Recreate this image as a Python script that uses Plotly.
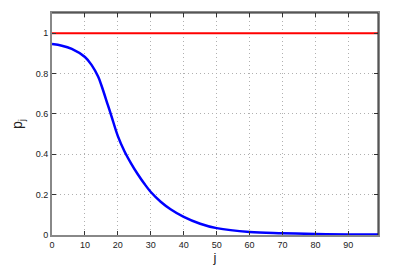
import plotly.graph_objects as go

# data
j_vals = [0, 3, 6, 10, 12, 14, 15, 17, 18, 20, 22, 24, 26, 28, 30, 33, 36, 40, 45, 50, 60, 70, 80, 90, 99]
p_vals = [0.946, 0.938, 0.922, 0.882, 0.843, 0.785, 0.742, 0.642, 0.592, 0.49, 0.415, 0.355,
          0.302, 0.255, 0.213, 0.165, 0.128, 0.09, 0.056, 0.034, 0.015, 0.009, 0.005, 0.003, 0.002]
ref_j = [0, 99]
ref_p = [1, 1]

x_ticks = [0, 10, 20, 30, 40, 50, 60, 70, 80, 90]
y_ticks = [0, 0.2, 0.4, 0.6, 0.8, 1]
y_tick_text = ["0", "0.2", "0.4", "0.6", "0.8", "1"]

fig = go.Figure()
fig.add_trace(go.Scatter(x=ref_j, y=ref_p, mode="lines",
                         line=dict(color="#ff0000", width=2), showlegend=False))
fig.add_trace(go.Scatter(x=j_vals, y=p_vals, mode="lines",
                         line=dict(color="#0000ff", width=2.5, shape="spline", smoothing=1.0),
                         showlegend=False))

font = dict(family="Liberation Sans, Arial, sans-serif", color="#222", size=9)
axis_common = dict(ticks="inside", ticklen=4, tickcolor="#333", showline=True,
                   linecolor="#888", linewidth=2, mirror="ticks", showgrid=True,
                   gridcolor="#b0b0b0", griddash="1px,3px", gridwidth=1, zeroline=False)
fig.update_layout(
    width=409, height=272,
    margin=dict(l=52, r=31, t=11, b=36),
    paper_bgcolor="white", plot_bgcolor="white",
    font=font,
    xaxis=dict(range=[0, 99], tickvals=x_ticks,
               title=dict(text="j", font=dict(size=13), standoff=2), **axis_common),
    yaxis=dict(range=[0, 1.1], tickvals=y_ticks, ticktext=y_tick_text,
               title=dict(text="p<sub>j</sub>", font=dict(size=14), standoff=10), **axis_common),
    shapes=[
        dict(type="line", xref="paper", yref="paper", x0=0, x1=1, y0=1, y1=1,
             line=dict(color="#222", width=1), layer="above"),
        dict(type="line", xref="paper", yref="paper", x0=1, x1=1, y0=0, y1=1,
             line=dict(color="#222", width=1), layer="above"),
    ],
)
fig.write_html("out.html", config={"displayModeBar": False},
               post_script="document.body.style.margin='0';document.body.style.padding='0';")
